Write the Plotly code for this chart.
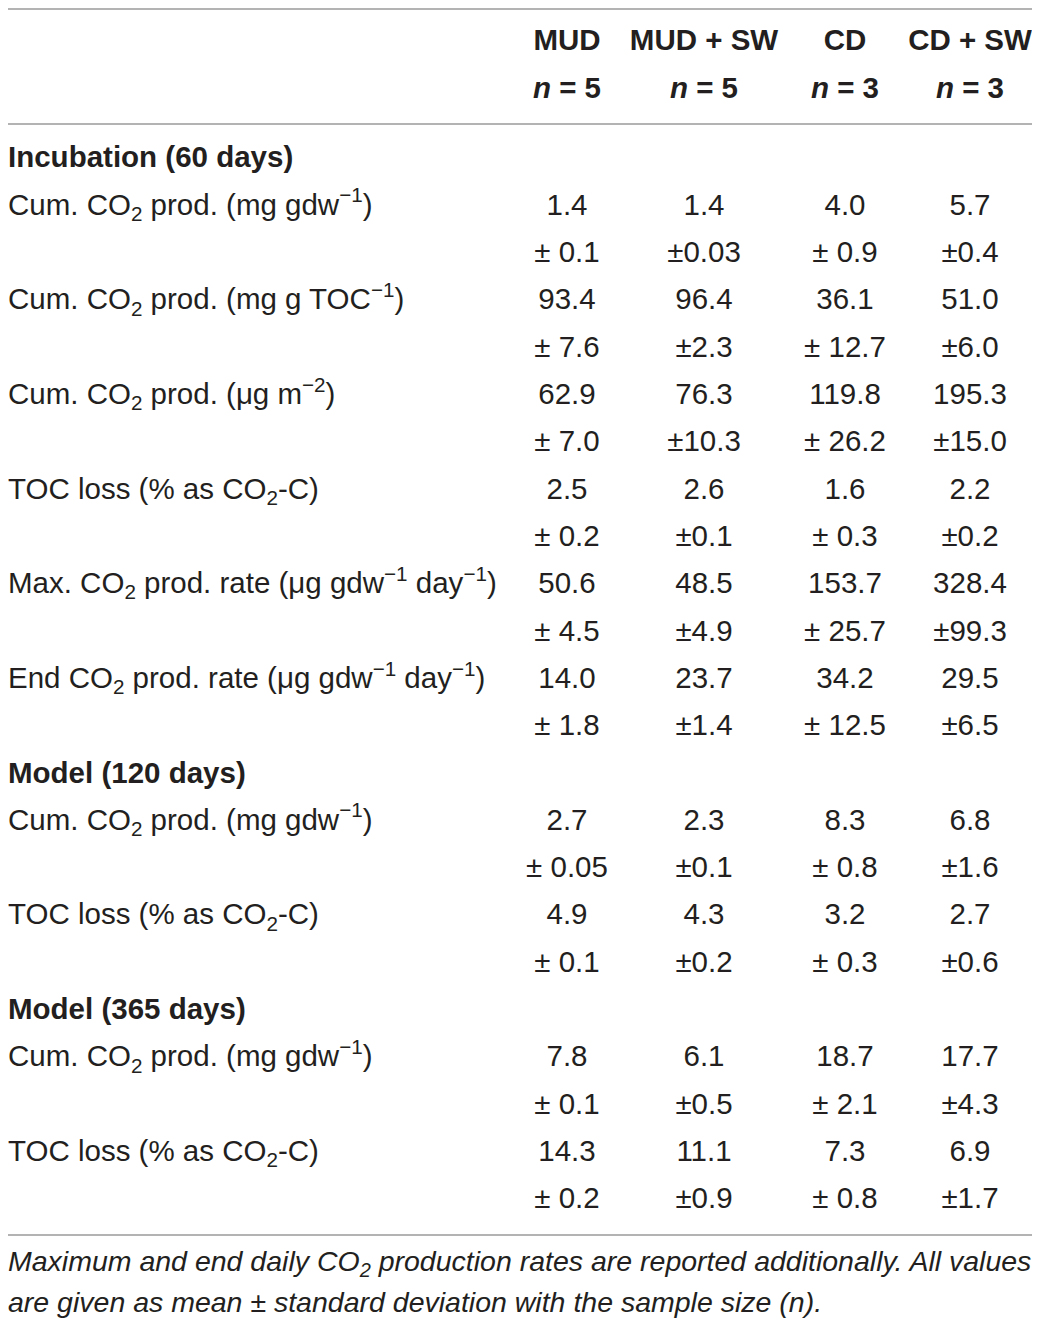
import plotly.graph_objects as go

# ── Table content ───────────────────────────────────────────────
groups  = ["MUD", "MUD + SW", "CD", "CD + SW"]
n_sizes = [5, 5, 3, 3]

incub_title  = "Incubation (60 days)"
incub_labels = [
    "Cum. CO<sub>2</sub> prod. (mg gdw<sup>−1</sup>)",
    "Cum. CO<sub>2</sub> prod. (mg g TOC<sup>−1</sup>)",
    "Cum. CO<sub>2</sub> prod. (μg m<sup>−2</sup>)",
    "TOC loss (% as CO<sub>2</sub>-C)",
    "Max. CO<sub>2</sub> prod. rate (μg gdw<sup>−1</sup> day<sup>−1</sup>)",
    "End CO<sub>2</sub> prod. rate (μg gdw<sup>−1</sup> day<sup>−1</sup>)",
]
incub_mean = [
    ["1.4", "1.4", "4.0", "5.7"],
    ["93.4", "96.4", "36.1", "51.0"],
    ["62.9", "76.3", "119.8", "195.3"],
    ["2.5", "2.6", "1.6", "2.2"],
    ["50.6", "48.5", "153.7", "328.4"],
    ["14.0", "23.7", "34.2", "29.5"],
]
incub_sd = [
    ["± 0.1", "±0.03", "± 0.9", "±0.4"],
    ["± 7.6", "±2.3", "± 12.7", "±6.0"],
    ["± 7.0", "±10.3", "± 26.2", "±15.0"],
    ["± 0.2", "±0.1", "± 0.3", "±0.2"],
    ["± 4.5", "±4.9", "± 25.7", "±99.3"],
    ["± 1.8", "±1.4", "± 12.5", "±6.5"],
]

m120_title  = "Model (120 days)"
m120_labels = [
    "Cum. CO<sub>2</sub> prod. (mg gdw<sup>−1</sup>)",
    "TOC loss (% as CO<sub>2</sub>-C)",
]
m120_mean = [["2.7", "2.3", "8.3", "6.8"], ["4.9", "4.3", "3.2", "2.7"]]
m120_sd   = [["± 0.05", "±0.1", "± 0.8", "±1.6"], ["± 0.1", "±0.2", "± 0.3", "±0.6"]]

m365_title  = "Model (365 days)"
m365_labels = [
    "Cum. CO<sub>2</sub> prod. (mg gdw<sup>−1</sup>)",
    "TOC loss (% as CO<sub>2</sub>-C)",
]
m365_mean = [["7.8", "6.1", "18.7", "17.7"], ["14.3", "11.1", "7.3", "6.9"]]
m365_sd   = [["± 0.1", "±0.5", "± 2.1", "±4.3"], ["± 0.2", "±0.9", "± 0.8", "±1.7"]]

caption = [
    "Maximum and end daily CO<sub>2</sub> production rates are reported additionally. All values",
    "are given as mean ± standard deviation with the sample size (<i>n</i>).",
]

# ── Layout constants (page pixels; the page body adds an 8 px margin) ──
PAGE_W, PAGE_H = 1040, 1321
BODY      = 8
ROW0_PX   = 160      # pixel centre of first body row
ROW_PX    = 47.32    # row pitch
LABEL_X   = 8
COL_X     = [567, 704, 845, 970]
HDR_PX    = [43, 91]
CAP_PX    = [1264, 1305]
RULES_PX  = [9, 124, 1235]
FONT      = "Liberation Sans, Arial, Helvetica, sans-serif"
SIZE      = 29.5
CAP_SIZE  = 28.5
INK       = "#231f20"
RULE      = "#9a9a9a"


def to_row(px):
    return (px - ROW0_PX) / ROW_PX


# ── Build rows (row index -> y) ─────────────────────────────────
sections = [
    (incub_title, incub_labels, incub_mean, incub_sd),
    (m120_title, m120_labels, m120_mean, m120_sd),
    (m365_title, m365_labels, m365_mean, m365_sd),
]

lab_y, lab_t = [], []
cell_x, cell_y, cell_t = [], [], []
row = 0
for title, labels, means, sds in sections:
    lab_y.append(row); lab_t.append(f"<b>{title}</b>")
    row += 1
    for lab, m, s in zip(labels, means, sds):
        lab_y.append(row); lab_t.append(lab)
        for j in range(len(groups)):
            cell_x += [COL_X[j], COL_X[j]]
            cell_y += [row, row + 1]
            cell_t += [m[j], s[j]]
        row += 2

fig = go.Figure()

# row labels
fig.add_trace(go.Scatter(
    x=[LABEL_X] * len(lab_y), y=lab_y, text=lab_t,
    mode="text", textposition="middle right", cliponaxis=False,
    textfont=dict(family=FONT, size=SIZE, color=INK),
    hoverinfo="skip", showlegend=False
))

# value cells
fig.add_trace(go.Scatter(
    x=cell_x, y=cell_y, text=cell_t,
    mode="text", textposition="middle center",
    textfont=dict(family=FONT, size=SIZE, color=INK),
    hoverinfo="skip", showlegend=False
))

# column headers
fig.add_trace(go.Scatter(
    x=COL_X + COL_X,
    y=[to_row(HDR_PX[0])] * len(groups) + [to_row(HDR_PX[1])] * len(groups),
    text=[f"<b>{g}</b>" for g in groups] + [f"<b><i>n</i> = {n}</b>" for n in n_sizes],
    mode="text", textposition="middle center",
    textfont=dict(family=FONT, size=SIZE, color=INK),
    hoverinfo="skip", showlegend=False
))

# caption
fig.add_trace(go.Scatter(
    x=[LABEL_X] * len(caption), y=[to_row(p) for p in CAP_PX],
    text=[f"<i>{c}</i>" for c in caption],
    mode="text", textposition="middle right", cliponaxis=False,
    textfont=dict(family=FONT, size=CAP_SIZE, color=INK),
    hoverinfo="skip", showlegend=False
))

# horizontal rules
for px in RULES_PX:
    fig.add_shape(type="line", xref="x", yref="y", x0=8, x1=1034,
                  y0=to_row(px), y1=to_row(px),
                  line=dict(color=RULE, width=1.5))

fig.update_xaxes(range=[BODY, PAGE_W], visible=False, fixedrange=True)
fig.update_yaxes(range=[to_row(PAGE_H), to_row(BODY)], visible=False, fixedrange=True)
fig.update_layout(
    width=PAGE_W - BODY, height=PAGE_H - BODY,
    margin=dict(l=0, r=0, t=0, b=0),
    paper_bgcolor="white", plot_bgcolor="white",
    showlegend=False
)

fig.write_html("out.html")
